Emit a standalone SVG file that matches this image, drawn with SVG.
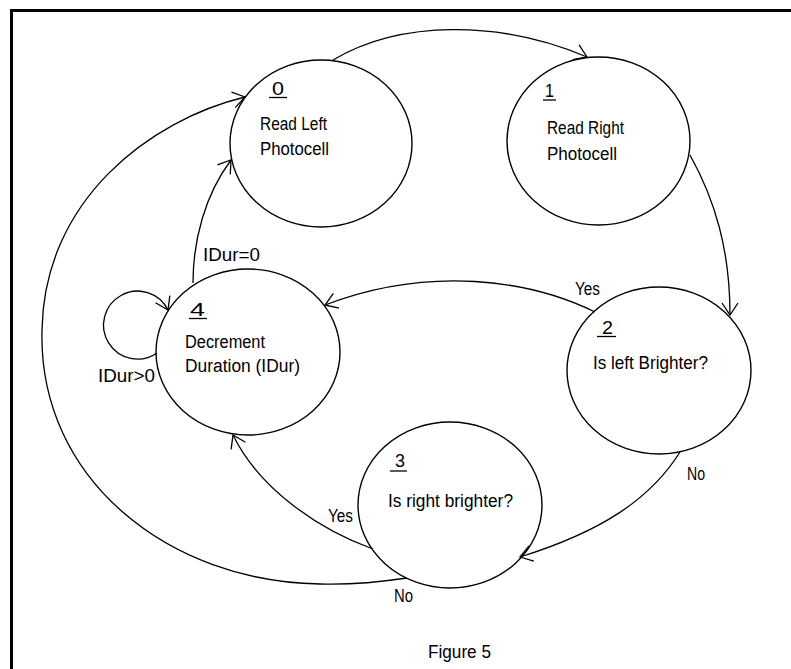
<svg xmlns="http://www.w3.org/2000/svg" width="791" height="669" viewBox="0 0 791 669">
  <style>
    .state { fill: none; stroke: #000; stroke-width: 1.4; }
    .edge { fill: none; stroke: #000; stroke-width: 1.3; }
    .frame { fill: none; stroke: #000; stroke-width: 3; }
    .ul { stroke: #000; stroke-width: 1.3; }
    text { font-family: "Liberation Sans", Arial, sans-serif; font-size: 18px; fill: #000; }
  </style>
  <defs>
    <marker id="arrow" markerUnits="userSpaceOnUse" markerWidth="30" markerHeight="30" viewBox="-15 -15 30 30" refX="0" refY="0" orient="auto">
      <path d="M -12 -8 L 0 0 L -12 8" fill="none" stroke="#000" stroke-width="1.3"/>
    </marker>
  </defs>

  <rect width="791" height="669" fill="#fff"/>
  <path class="frame" d="M 11.5 669 L 11.5 10.5 L 791 10.5"/>

  <!-- transitions -->
  <g id="connectors">
    <path class="edge" d="M 333 60 C 400 20 500 20 587 57" marker-end="url(#arrow)"/>
    <path class="edge" d="M 690 155 C 715 200 730 250 730 315" marker-end="url(#arrow)"/>
    <path class="edge" d="M 595 312 C 530 280 430 265 325 305" marker-end="url(#arrow)"/>
    <path class="edge" d="M 680 452 C 650 500 600 532 520 557" marker-end="url(#arrow)"/>
    <path class="edge" d="M 373 549 C 320 530 260 490 233 435" marker-end="url(#arrow)"/>
    <path class="edge" d="M 407 578 C 380 582 350 585 320 584 C 170 582 38 480 42 330 C 44 200 150 120 245 97" marker-end="url(#arrow)"/>
    <path class="edge" d="M 193 283 C 193 240 205 195 231 160" marker-end="url(#arrow)"/>
    <path class="edge" d="M 157 353 A 34 34 0 1 1 168 310" marker-end="url(#arrow)"/>
    <text x="203" y="261" textLength="57" lengthAdjust="spacingAndGlyphs">IDur=0</text>
    <text x="98" y="382" textLength="57" lengthAdjust="spacingAndGlyphs">IDur&gt;0</text>
    <text x="575" y="295" textLength="25" lengthAdjust="spacingAndGlyphs">Yes</text>
    <text x="687" y="480" textLength="18" lengthAdjust="spacingAndGlyphs">No</text>
    <text x="328" y="522" textLength="25" lengthAdjust="spacingAndGlyphs">Yes</text>
    <text x="394" y="602" textLength="19" lengthAdjust="spacingAndGlyphs">No</text>
  </g>

  <g id="state0">
    <ellipse class="state" cx="321" cy="143.5" rx="91" ry="83.5"/>
    <text x="272" y="95" textLength="12" lengthAdjust="spacingAndGlyphs">0</text>
    <line class="ul" x1="269" y1="97.5" x2="287" y2="97.5"/>
    <text x="260" y="130" textLength="67" lengthAdjust="spacingAndGlyphs">Read Left</text>
    <text x="260" y="155" textLength="69" lengthAdjust="spacingAndGlyphs">Photocell</text>
  </g>

  <g id="state1">
    <ellipse class="state" cx="598.5" cy="141" rx="91.5" ry="84"/>
    <text x="545" y="97" textLength="9" lengthAdjust="spacingAndGlyphs">1</text>
    <line class="ul" x1="543" y1="100" x2="556" y2="100"/>
    <text x="547" y="134" textLength="77" lengthAdjust="spacingAndGlyphs">Read Right</text>
    <text x="547" y="160" textLength="70" lengthAdjust="spacingAndGlyphs">Photocell</text>
  </g>

  <g id="state2">
    <ellipse class="state" cx="659" cy="370.5" rx="92" ry="83.5"/>
    <text x="602" y="334" textLength="11" lengthAdjust="spacingAndGlyphs">2</text>
    <line class="ul" x1="597" y1="336.5" x2="616" y2="336.5"/>
    <text x="593" y="369" textLength="115" lengthAdjust="spacingAndGlyphs">Is left Brighter?</text>
  </g>

  <g id="state3">
    <ellipse class="state" cx="450" cy="505" rx="92" ry="83"/>
    <text x="395" y="467" textLength="10" lengthAdjust="spacingAndGlyphs">3</text>
    <line class="ul" x1="390" y1="471" x2="407" y2="471"/>
    <text x="388" y="507" textLength="125" lengthAdjust="spacingAndGlyphs">Is right brighter?</text>
  </g>

  <g id="state4">
    <ellipse class="state" cx="248" cy="352" rx="92" ry="83"/>
    <text x="190" y="316" textLength="15" lengthAdjust="spacingAndGlyphs">4</text>
    <line class="ul" x1="189" y1="318.5" x2="207" y2="318.5"/>
    <text x="185" y="348" textLength="80" lengthAdjust="spacingAndGlyphs">Decrement</text>
    <text x="185" y="372" textLength="115" lengthAdjust="spacingAndGlyphs">Duration (IDur)</text>
  </g>

  <text x="428" y="658" textLength="63" lengthAdjust="spacingAndGlyphs">Figure 5</text>
</svg>
